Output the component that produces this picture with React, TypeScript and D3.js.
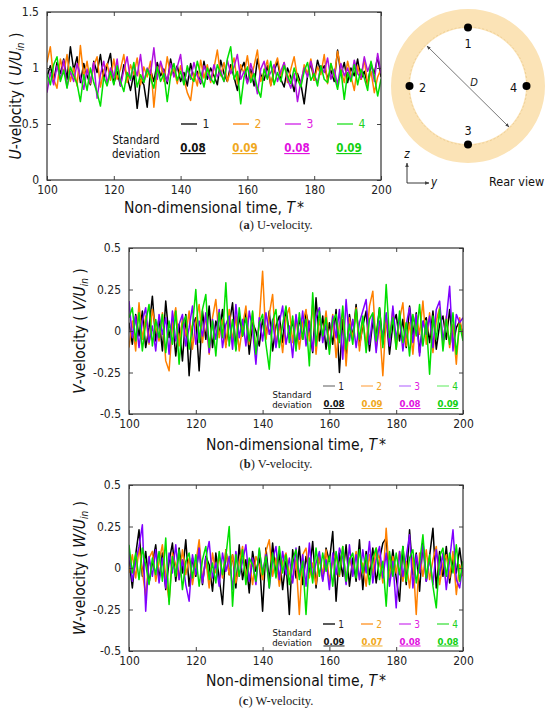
import { useEffect, useRef } from 'react';
import * as d3 from 'd3';

const timeTicks = [100, 120, 140, 160, 180, 200];
const uTicks = [0, 0.5, 1, 1.5];
const vwTicks = [-0.5, -0.25, 0, 0.25, 0.5];
const probes = ['1', '2', '3', '4'];

// samples read at T* = 100, 101, ... 200
const u1 = [
  0.92, 1.02, 0.88, 1.05, 0.95, 1.08, 0.90, 1.19, 0.98, 1.10,
  0.87, 1.04, 0.93, 0.85, 1.06, 0.96, 1.12, 0.90, 1.02, 1.13,
  0.86, 0.97, 0.84, 1.03, 0.92, 0.80, 0.95, 0.64, 0.90, 0.85,
  0.65, 0.98, 0.88, 1.05, 0.93, 0.99, 0.86, 1.08, 0.94, 1.02,
  0.88, 0.96, 0.84, 1.04, 0.91, 0.97, 0.86, 1.06, 0.90, 1.00,
  0.93, 0.85, 1.07, 0.95, 0.88, 1.03, 0.92, 0.80, 0.98, 1.05,
  0.87, 0.99, 0.84, 1.08, 0.94, 0.89, 1.02, 0.85, 0.97, 1.06,
  0.90, 0.83, 1.00, 0.92, 0.79, 0.95, 0.86, 0.68, 0.93, 1.04,
  0.89, 1.07, 0.96, 1.02, 0.91, 0.98, 0.88, 1.16, 0.94, 1.05,
  0.87, 1.00, 0.93, 1.08, 0.90, 0.97, 0.85, 1.03, 0.95, 1.10,
  0.92,
];
const u2 = [
  1.05, 1.19, 0.90, 0.82, 1.08, 0.95, 1.12, 0.88, 1.00, 0.84,
  1.20, 0.92, 1.06, 0.86, 1.02, 1.10, 0.83, 0.98, 1.04, 0.89,
  1.08, 0.90, 0.99, 1.12, 0.87, 1.03, 0.94, 1.09, 0.85, 1.01,
  0.92, 1.06, 0.65, 0.97, 1.04, 0.88, 1.10, 0.93, 0.99, 0.86,
  1.02, 0.90, 0.78, 0.71, 0.95, 0.84, 1.07, 0.91, 1.03, 0.87,
  1.00, 1.16, 0.93, 1.05, 0.88, 0.98, 1.09, 0.86, 1.03, 0.95,
  1.11, 0.90, 1.02, 1.16, 0.88, 0.97, 1.07, 0.84, 1.00, 1.09,
  0.93, 1.05, 0.87, 0.99, 1.10, 0.91, 0.84, 1.03, 0.95, 1.08,
  0.89, 1.01, 0.94, 1.12, 0.86, 1.04, 0.92, 1.15, 0.98, 0.87,
  1.06, 0.93, 0.80, 1.02, 0.90, 1.08, 0.85, 0.97, 0.78, 0.92,
  0.99,
];
const u3 = [
  0.78, 0.96, 0.85, 1.02, 0.90, 1.07, 0.83, 0.97, 0.88, 1.04,
  0.92, 0.81, 0.99, 0.87, 1.05, 0.73, 0.94, 1.06, 0.86, 1.00,
  0.91, 1.08, 0.84, 0.98, 1.10, 0.89, 1.03, 0.93, 1.12, 0.87,
  1.00, 0.95, 1.18, 0.90, 1.06, 0.96, 0.88, 1.04, 0.92, 1.01,
  1.12, 0.86, 0.99, 0.90, 1.05, 0.93, 0.87, 1.02, 0.95, 0.89,
  1.03, 0.92, 0.98, 0.88, 1.07, 0.95, 1.01, 1.12, 0.90, 0.97,
  0.86, 1.04, 0.93, 0.77, 0.99, 1.06, 0.91, 0.96, 1.03, 0.88,
  0.97, 1.05, 0.90, 0.82, 0.95, 0.70, 0.88, 1.00, 0.92, 1.06,
  0.94, 0.87, 1.02, 0.96, 1.09, 0.90, 0.99, 0.85, 1.04, 0.93,
  1.00, 0.89, 1.07, 0.95, 0.91, 1.10, 0.97, 1.05, 0.88, 1.13,
  0.95,
];
const u4 = [
  0.95, 0.85, 1.03, 1.10, 0.88, 0.98, 0.82, 1.01, 0.93, 0.86,
  0.70, 0.94, 0.80, 1.00, 0.87, 0.78, 0.66, 0.92, 0.84, 0.97,
  0.85, 1.02, 0.88, 0.79, 0.96, 0.90, 1.05, 0.83, 0.94, 0.87,
  0.99, 0.91, 0.82, 1.01, 0.88, 0.95, 0.70, 0.93, 1.04, 0.89,
  0.97, 0.85, 1.02, 0.92, 0.88, 1.06, 0.94, 0.83, 1.00, 0.91,
  0.86, 1.03, 0.95, 0.88, 1.08, 1.19, 0.90, 0.97, 0.68, 0.92,
  1.01, 0.87, 0.95, 0.82, 0.74, 0.99, 0.90, 1.06, 0.85, 0.96,
  0.88, 1.02, 0.93, 0.86, 1.00, 0.90, 0.83, 0.97, 1.05, 0.89,
  0.95, 0.84, 1.02, 0.90, 0.87, 1.04, 0.93, 0.81, 0.98, 0.72,
  0.96, 0.88, 1.03, 0.85, 0.99, 0.91, 0.80, 1.06, 0.93, 0.75,
  0.90,
];

const v1 = [
  0.05, -0.08, 0.10, -0.03, 0.12, -0.10, 0.02, 0.21, -0.06, 0.08,
  -0.12, 0.18, -0.04, 0.07, -0.15, 0.04, -0.18, 0.10, -0.27, 0.03,
  0.08, -0.24, 0.12, -0.05, 0.15, -0.10, 0.06, -0.02, 0.13, -0.08,
  0.04, 0.17, -0.11, 0.09, -0.03, 0.11, -0.14, 0.05, 0.00, -0.09,
  0.07, -0.04, 0.12, -0.12, 0.03, 0.09, -0.07, 0.14, -0.02, 0.06,
  -0.10, 0.08, -0.05, 0.11, 0.02, -0.13, 0.20, -0.06, 0.09, -0.11,
  0.05, -0.08, 0.13, -0.25, 0.07, -0.15, 0.10, -0.04, 0.16, -0.09,
  0.03, 0.12, -0.12, 0.06, -0.03, 0.14, -0.08, 0.09, -0.14, 0.04,
  0.10, -0.06, 0.07, -0.10, 0.15, -0.02, 0.11, -0.13, 0.05, 0.08,
  -0.07, 0.12, -0.11, 0.04, 0.09, -0.05, 0.13, -0.09, 0.02, 0.06,
  -0.03,
];
const v2 = [
  -0.10, 0.06, -0.12, 0.17, -0.05, 0.09, -0.08, 0.13, 0.02, -0.06,
  0.11, -0.18, -0.24, 0.04, 0.14, -0.09, 0.08, -0.03, 0.12, -0.11,
  0.05, 0.16, -0.07, 0.10, -0.14, 0.08, 0.19, -0.04, 0.07, -0.10,
  0.13, -0.06, 0.09, -0.12, 0.03, 0.15, -0.08, 0.11, -0.15, 0.06,
  0.36, -0.05, 0.10, 0.22, -0.09, 0.04, -0.13, 0.08, 0.14, -0.07,
  0.09, -0.11, 0.05, 0.13, -0.06, 0.16, -0.14, 0.07, -0.03, 0.12,
  -0.09, 0.10, -0.16, 0.04, 0.11, -0.21, 0.08, -0.05, 0.14, -0.12,
  0.06, -0.08, 0.15, 0.24, -0.10, 0.03, -0.27, 0.09, -0.06, 0.13,
  -0.11, 0.07, 0.17, -0.09, 0.05, -0.14, 0.10, -0.02, 0.18, -0.08,
  0.11, -0.13, 0.06, 0.14, -0.07, 0.09, -0.10, 0.04, -0.20, 0.08,
  -0.04,
];
const v3 = [
  0.18, -0.04, 0.09, -0.10, 0.06, 0.14, -0.07, 0.03, -0.12, 0.10,
  -0.02, 0.08, -0.14, 0.12, -0.06, 0.04, 0.10, -0.09, 0.02, 0.15,
  -0.08, 0.06, -0.03, 0.11, -0.13, 0.07, -0.05, 0.13, -0.10, 0.04,
  0.09, -0.11, 0.16, -0.04, 0.07, -0.09, 0.12, 0.01, -0.20, 0.08,
  -0.06, 0.11, -0.02, 0.07, -0.10, 0.05, 0.15, -0.08, 0.03, -0.16,
  0.10, -0.05, 0.12, -0.09, 0.06, -0.12, 0.08, 0.14, -0.07, 0.04,
  -0.11, 0.09, -0.04, 0.13, -0.17, 0.19, -0.06, 0.07, -0.10, 0.05,
  0.12, 0.19, -0.08, 0.10, -0.13, 0.06, -0.03, 0.11, -0.09, 0.15,
  -0.05, 0.08, -0.12, 0.04, 0.14, -0.07, 0.10, -0.15, 0.06, -0.02,
  0.09, -0.10, 0.13, 0.18, -0.06, 0.07, 0.27, -0.12, 0.10, 0.05,
  0.08,
];
const v4 = [
  0.08, 0.14, -0.06, 0.11, -0.12, 0.05, 0.16, -0.09, 0.07, -0.04,
  0.10, -0.13, 0.06, -0.08, 0.12, -0.20, 0.04, 0.09, -0.11, 0.03,
  0.25, -0.07, 0.13, 0.22, -0.10, 0.06, -0.15, 0.11, -0.04, 0.29,
  -0.09, 0.07, -0.12, 0.14, -0.03, 0.08, -0.06, 0.12, -0.14, 0.05,
  0.10, -0.08, -0.23, 0.06, 0.13, -0.10, 0.04, 0.15, -0.07, 0.09,
  -0.12, 0.11, -0.05, 0.07, -0.21, 0.23, -0.09, 0.12, -0.03, 0.08,
  -0.14, 0.06, 0.10, -0.07, 0.15, -0.11, 0.04, -0.08, 0.13, -0.05,
  0.09, -0.13, 0.07, 0.11, -0.06, 0.14, -0.10, 0.28, -0.04, 0.08,
  -0.11, 0.12, -0.07, 0.05, -0.15, 0.10, -0.03, 0.16, -0.09, 0.06,
  -0.26, 0.09, -0.05, 0.13, -0.12, 0.07, -0.08, 0.11, -0.14, 0.04,
  -0.06,
];

const w1 = [
  0.05, -0.12, 0.08, 0.23, -0.05, 0.10, -0.09, 0.03, 0.14, -0.07,
  0.09, -0.13, 0.04, 0.15, -0.08, 0.12, -0.03, 0.17, -0.11, 0.06,
  -0.05, 0.13, -0.10, 0.07, 0.02, -0.14, 0.09, -0.06, -0.22, 0.11,
  -0.04, 0.08, -0.12, 0.14, -0.07, 0.05, -0.15, 0.10, -0.02, 0.06,
  -0.26, 0.12, -0.08, 0.15, -0.05, 0.09, -0.13, 0.04, -0.28, 0.11,
  -0.06, 0.13, -0.10, 0.07, -0.03, 0.16, -0.12, 0.08, -0.07, 0.12,
  0.04, 0.22, -0.20, 0.09, -0.05, 0.14, -0.11, 0.06, -0.08, 0.17,
  -0.13, 0.10, -0.04, 0.12, -0.09, 0.05, 0.15, 0.18, -0.07, 0.11,
  -0.06, -0.20, 0.13, -0.10, 0.23, -0.04, 0.09, -0.14, 0.16, -0.08,
  0.07, 0.24, -0.12, 0.10, -0.05, 0.13, -0.09, 0.06, -0.03, 0.12,
  -0.04,
];
const w2 = [
  -0.03, 0.08, -0.06, 0.12, -0.02, -0.17, 0.06, 0.10, -0.08, 0.04,
  0.14, -0.05, -0.20, 0.09, 0.02, -0.07, 0.11, -0.04, 0.06, -0.10,
  0.03, 0.17, -0.08, 0.05, -0.12, 0.09, -0.03, 0.07, -0.06, 0.11,
  -0.04, 0.08, -0.09, 0.03, 0.13, -0.06, 0.05, -0.10, 0.07, 0.02,
  -0.07, 0.10, 0.17, -0.05, 0.06, -0.11, 0.04, 0.09, -0.03, -0.08,
  0.05, -0.28, 0.08, 0.12, -0.06, 0.03, -0.10, 0.07, -0.04, 0.11,
  -0.08, 0.04, 0.09, -0.05, 0.13, -0.09, 0.06, -0.02, 0.10, -0.07,
  0.03, -0.11, 0.08, -0.04, 0.12, 0.05, -0.09, 0.24, -0.06, 0.07,
  -0.03, 0.10, -0.08, 0.04, -0.12, 0.06, -0.28, 0.09, -0.05, 0.11,
  -0.07, 0.05, 0.13, -0.10, 0.03, 0.08, -0.06, 0.10, -0.16, 0.02,
  -0.05,
];
const w3 = [
  0.10, -0.08, 0.04, 0.13, 0.26, -0.26, 0.07, -0.05, 0.11, -0.09,
  0.06, -0.12, 0.09, -0.03, 0.14, -0.07, 0.05, -0.10, -0.20, 0.08,
  -0.04, 0.12, -0.09, 0.06, 0.16, -0.06, 0.03, -0.11, 0.09, -0.02,
  0.07, -0.13, 0.10, -0.05, 0.04, 0.14, -0.08, 0.06, -0.10, 0.11,
  -0.03, 0.08, -0.12, 0.05, 0.13, -0.07, 0.10, -0.04, 0.06, -0.09,
  0.12, -0.05, 0.08, -0.11, 0.15, -0.06, 0.03, 0.10, -0.08, 0.05,
  -0.13, 0.09, -0.04, 0.12, 0.06, -0.10, 0.14, -0.05, 0.08, -0.07,
  0.11, -0.03, 0.16, -0.09, 0.05, 0.13, -0.06, 0.09, -0.11, 0.04,
  -0.24, 0.10, -0.05, 0.07, 0.20, -0.12, 0.08, -0.03, 0.14, -0.08,
  0.06, -0.10, 0.11, -0.04, 0.09, -0.13, 0.05, 0.23, -0.07, -0.12,
  0.03,
];
const w4 = [
  0.14, -0.03, 0.09, -0.07, 0.12, 0.02, -0.10, 0.06, -0.04, 0.10,
  -0.08, 0.18, -0.22, 0.07, -0.05, 0.11, -0.13, 0.04, 0.09, -0.06,
  0.08, -0.11, 0.05, 0.13, -0.07, 0.03, -0.09, 0.10, -0.04, 0.07,
  0.25, -0.23, 0.08, -0.05, 0.11, -0.10, 0.06, 0.02, -0.08, 0.12,
  -0.04, 0.07, -0.12, 0.09, -0.06, 0.13, -0.03, 0.08, -0.10, 0.05,
  0.11, -0.07, 0.04, -0.28, 0.06, -0.09, 0.12, -0.05, 0.09, -0.02,
  0.07, -0.11, 0.10, -0.04, 0.13, -0.08, 0.05, 0.09, -0.06, 0.11,
  -0.03, 0.08, -0.10, 0.06, 0.12, -0.07, 0.04, -0.23, 0.10, -0.05,
  0.09, -0.04, 0.13, -0.08, 0.06, 0.11, -0.09, 0.03, 0.20, -0.06,
  0.08, -0.11, -0.24, 0.07, 0.12, -0.05, 0.09, -0.03, 0.14, -0.08,
  0.04,
];

const uStd = ['0.08', '0.09', '0.08', '0.09'];
const vStd = ['0.08', '0.09', '0.08', '0.09'];
const wStd = ['0.09', '0.07', '0.08', '0.08'];

const SANS = '"DejaVu Sans Condensed", "DejaVu Sans", sans-serif';
const SERIF = '"Liberation Serif", "Times New Roman", serif';

const labelColors = ['#222222', '#f0a020', '#e020e0', '#20d020'];
const valueColors = ['#111111', '#f0a820', '#e010e0', '#10d010'];

const panels = [
  {
    key: 'a', comp: 'U', caption: 'U-velocity.',
    left: 47, right: 381, top: 12, bottom: 180,
    domain: [0, 1.5], ticks: uTicks,
    series: [u1, u2, u3, u4], std: uStd,
    colors: ['#000000', '#ff8000', '#b010e0', '#00e000'],
    legendColors: ['#000000', '#ff8000', '#d020e8', '#20e020'],
    titleX: 16, titleBase: 213, capBase: 229,
    lg: { lineY: 124, centers: [193, 245, 297, 349], l: -12, r: 4, labelDx: 13, valDx: 0, valY: 152, stdX: 136, stdY: [144, 158], fs: 12, small: 11.5 },
  },
  {
    key: 'b', comp: 'V', caption: 'V-velocity.',
    left: 129, right: 463, top: 248, bottom: 414,
    domain: [-0.5, 0.5], ticks: vwTicks,
    series: [v1, v2, v3, v4], std: vStd,
    colors: ['#000000', '#ff8000', '#8000ff', '#00e000'],
    legendColors: ['#808080', '#ffb060', '#c080ff', '#80f080'],
    titleX: 80, titleBase: 450, capBase: 468,
    lg: { lineY: 386, centers: [330, 368, 406, 444], l: -7, r: 5, labelDx: 11, valDx: 4, valY: 407, stdX: 292, stdY: [397.5, 407.5], fs: 10, small: 9.5 },
  },
  {
    key: 'c', comp: 'W', caption: 'W-velocity.',
    left: 129, right: 463, top: 485, bottom: 651,
    domain: [-0.5, 0.5], ticks: vwTicks,
    series: [w1, w2, w3, w4], std: wStd,
    colors: ['#000000', '#ff8000', '#8000ff', '#00e000'],
    legendColors: ['#000000', '#ff9020', '#d040f0', '#40e040'],
    titleX: 80, titleBase: 686, capBase: 705,
    lg: { lineY: 624, centers: [330, 368, 406, 444], l: -7, r: 5, labelDx: 11, valDx: 4, valY: 644.5, stdX: 292, stdY: [635.5, 645.5], fs: 10, small: 9.5 },
  },
];

function drawPanel(svg: any, p: any) {
  const x = d3.scaleLinear().domain([100, 200]).range([p.left, p.right]);
  const y = d3.scaleLinear().domain(p.domain).range([p.bottom, p.top]);
  const g = svg.append('g');

  svg.select('defs')
    .append('clipPath').attr('id', `clip-${p.key}`)
    .append('rect')
    .attr('x', p.left).attr('y', p.top)
    .attr('width', p.right - p.left).attr('height', p.bottom - p.top);

  const line = d3.line<number>().x((d, i) => x(100 + i)).y((d) => y(d));
  const lines = g.append('g').attr('clip-path', `url(#clip-${p.key})`);
  p.series.forEach((s: number[], i: number) => {
    lines.append('path')
      .attr('d', line(s))
      .attr('fill', 'none')
      .attr('stroke', p.colors[i])
      .attr('stroke-width', 1.5)
      .attr('stroke-linejoin', 'round');
  });

  // axes, gnuplot style: ticks point inwards on every side
  const bottom = g.append('g').attr('transform', `translate(0,${p.bottom})`)
    .call(d3.axisBottom(x).tickValues(timeTicks).tickSize(-4).tickPadding(5).tickFormat(d3.format('d')));
  const left = g.append('g').attr('transform', `translate(${p.left},0)`)
    .call(d3.axisLeft(y).tickValues(p.ticks).tickSize(-4).tickPadding(8).tickFormat((d: any) => String(d)));
  g.append('g').attr('transform', `translate(0,${p.top})`)
    .call(d3.axisTop(x).tickValues(timeTicks).tickSize(-4).tickFormat(() => ''));
  g.append('g').attr('transform', `translate(${p.right},0)`)
    .call(d3.axisRight(y).tickValues(p.ticks).tickSize(-4).tickFormat(() => ''));
  g.selectAll('.domain').remove();
  g.selectAll('.tick line').attr('stroke', '#444').attr('stroke-width', 1);
  [bottom, left].forEach((a) =>
    a.selectAll('text').attr('fill', '#222').style('font-family', SANS).style('font-size', '12px'));

  g.append('rect')
    .attr('x', p.left).attr('y', p.top)
    .attr('width', p.right - p.left).attr('height', p.bottom - p.top)
    .attr('fill', 'none').attr('stroke', '#333').attr('stroke-width', 1.2);

  // legend
  const lg = p.lg;
  const leg = g.append('g').style('font-family', SANS);
  probes.forEach((name, i) => {
    const c = lg.centers[i];
    leg.append('line')
      .attr('x1', c + lg.l).attr('x2', c + lg.r)
      .attr('y1', lg.lineY).attr('y2', lg.lineY)
      .attr('stroke', p.legendColors[i]).attr('stroke-width', 1.3);
    leg.append('text')
      .attr('x', c + lg.labelDx).attr('y', lg.lineY)
      .attr('text-anchor', 'middle').attr('dominant-baseline', 'central')
      .style('font-size', `${lg.fs}px`).attr('fill', labelColors[i])
      .text(name);
    leg.append('text')
      .attr('x', c + lg.valDx).attr('y', lg.valY)
      .attr('text-anchor', 'middle')
      .style('font-size', `${lg.small}px`).style('font-weight', 'bold')
      .style('text-decoration', 'underline')
      .attr('fill', valueColors[i])
      .text(p.std[i]);
  });
  ['Standard', 'deviation'].forEach((t, i) => {
    leg.append('text')
      .attr('x', lg.stdX).attr('y', lg.stdY[i])
      .attr('text-anchor', 'middle')
      .style('font-size', `${lg.small}px`).attr('fill', '#111')
      .text(t);
  });

  // axis titles
  const cx = (p.left + p.right) / 2;
  const cy = (p.top + p.bottom) / 2;
  const yt = g.append('text')
    .attr('transform', `translate(${p.titleX},${cy}) rotate(-90)`)
    .attr('text-anchor', 'middle').attr('dominant-baseline', 'central')
    .style('font-family', SANS).style('font-size', '15.5px').attr('fill', '#111');
  yt.append('tspan').style('font-style', 'italic').text(p.comp);
  yt.append('tspan').text('-velocity ( ');
  yt.append('tspan').style('font-style', 'italic').text(`${p.comp}/U`);
  yt.append('tspan').style('font-style', 'italic').style('font-size', '10px').attr('dy', 4).text('in');
  yt.append('tspan').attr('dy', -4).text(' )');

  const xt = g.append('text')
    .attr('x', cx).attr('y', p.titleBase)
    .attr('text-anchor', 'middle')
    .style('font-family', SANS).style('font-size', '15.5px').attr('fill', '#111');
  xt.append('tspan').text('Non-dimensional time, ');
  xt.append('tspan').style('font-style', 'italic').text('T');
  xt.append('tspan').attr('dx', 2).text('*');

  const cap = g.append('text')
    .attr('x', 276).attr('y', p.capBase)
    .attr('text-anchor', 'middle')
    .style('font-family', SERIF).style('font-size', '12.5px').attr('fill', '#222');
  cap.append('tspan').text('(');
  cap.append('tspan').style('font-weight', 'bold').text(p.key);
  cap.append('tspan').text(`) ${p.caption}`);
}

function drawRearView(svg: any) {
  const cx = 468;
  const cy = 86;
  const g = svg.append('g').style('font-family', SANS);
  const ring = d3.arc()({ innerRadius: 58, outerRadius: 77, startAngle: 0, endAngle: 2 * Math.PI } as any);
  g.append('path').attr('transform', `translate(${cx},${cy})`).attr('d', ring).attr('fill', '#fbe3b6');
  g.append('circle').attr('cx', cx).attr('cy', cy).attr('r', 59)
    .attr('fill', 'none').attr('stroke', '#efcf94').attr('stroke-width', 1).attr('stroke-dasharray', '2,2');

  const defs = svg.select('defs');
  defs.append('marker').attr('id', 'arr').attr('viewBox', '0 0 10 10')
    .attr('refX', 9).attr('refY', 5).attr('markerWidth', 5).attr('markerHeight', 5)
    .attr('orient', 'auto-start-reverse')
    .append('path').attr('d', 'M0,1 L10,5 L0,9 Z').attr('fill', '#444');

  g.append('line').attr('x1', 427).attr('y1', 46).attr('x2', 509).attr('y2', 127)
    .attr('stroke', '#555').attr('stroke-width', 0.8)
    .attr('marker-start', 'url(#arr)').attr('marker-end', 'url(#arr)');
  g.append('text').attr('x', 474).attr('y', 86).attr('text-anchor', 'middle')
    .style('font-size', '11px').style('font-style', 'italic').attr('fill', '#222').text('D');

  const dots = [
    { label: '1', a: -90, lx: 0, ly: 16 },
    { label: '2', a: 180, lx: 13, ly: 1 },
    { label: '3', a: 90, lx: 0, ly: -14 },
    { label: '4', a: 0, lx: -13, ly: 1 },
  ];
  dots.forEach((d) => {
    const r = (d.a * Math.PI) / 180;
    const px = cx + 58.5 * Math.cos(r);
    const py = cy + 58.5 * Math.sin(r);
    g.append('circle').attr('cx', px).attr('cy', py).attr('r', 4).attr('fill', '#000');
    g.append('text').attr('x', px + d.lx).attr('y', py + d.ly)
      .attr('text-anchor', 'middle').attr('dominant-baseline', 'central')
      .style('font-size', '12.5px').attr('fill', '#111').text(d.label);
  });

  // coordinate icon
  g.append('line').attr('x1', 407).attr('y1', 183).attr('x2', 407).attr('y2', 163)
    .attr('stroke', '#222').attr('stroke-width', 0.9).attr('marker-end', 'url(#arr)');
  g.append('line').attr('x1', 407).attr('y1', 183).attr('x2', 429).attr('y2', 183)
    .attr('stroke', '#222').attr('stroke-width', 0.9).attr('marker-end', 'url(#arr)');
  g.append('text').attr('x', 407).attr('y', 158).attr('text-anchor', 'middle')
    .style('font-size', '11.5px').style('font-style', 'italic').attr('fill', '#111').text('z');
  g.append('text').attr('x', 431).attr('y', 186)
    .style('font-size', '11.5px').style('font-style', 'italic').attr('fill', '#111').text('y');
  g.append('text').attr('x', 489).attr('y', 186)
    .style('font-size', '12.5px').attr('fill', '#111').text('Rear view');
}

export default function App() {
  const svgRef = useRef<SVGSVGElement>(null);

  useEffect(() => {
    if (!svgRef.current) return;
    const svg = d3.select(svgRef.current);
    svg.selectAll('*').remove();
    svg.append('defs');
    panels.forEach((p) => drawPanel(svg, p));
    drawRearView(svg);
  }, []);

  return (
    <svg
      ref={svgRef}
      width={550}
      height={713}
      style={{ position: 'absolute', left: 0, top: 0, background: '#fff' }}
    />
  );
}
